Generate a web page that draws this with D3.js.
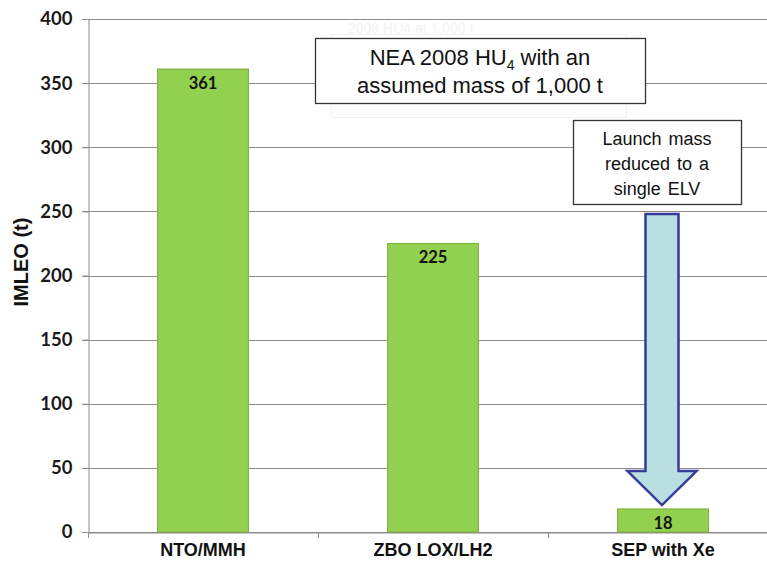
<!DOCTYPE html>
<html><head><meta charset="utf-8">
<script src="https://cdn.jsdelivr.net/npm/d3@7"></script>
<style>body{margin:0;background:#fff}svg{display:block}</style>
</head><body>
<svg id="c" width="767" height="561"></svg>
<script>
const categories = ["NTO/MMH", "ZBO LOX/LH2", "SEP with Xe"];
const values = [361, 225, 18];
const yTicks = [0, 50, 100, 150, 200, 250, 300, 350, 400];
const note1 = ["NEA 2008 HU", "4", " with an"];
const note1b = "assumed mass of 1,000 t";
const note2 = ["Launch mass", "reduced to a", "single ELV"];
const ghostNote = "2008 HU4 at 1,000 t";
const arrowFrom = 248, arrowTo = 21; // arrow spans these IMLEO values

(function () {
const svg = d3.select("#c");
const m = {l: 88, t: 19, r: 778, b: 532};
const x = d3.scaleBand().domain(categories).range([m.l, m.r]).paddingInner(0.605).paddingOuter(0.3025);
const y = d3.scaleLinear().domain([0, 400]).range([m.b, m.t]);

// gridlines
svg.append("g").selectAll("line").data(yTicks).join("line")
  .attr("x1", m.l - 6).attr("x2", m.r)
  .attr("y1", d => Math.round(y(d)) + 0.5).attr("y2", d => Math.round(y(d)) + 0.5)
  .attr("stroke", "#8c8c8c").attr("stroke-width", 1);

// y axis
const ya = svg.append("g").attr("transform", `translate(${m.l + 0.5},0)`)
  .call(d3.axisLeft(y).tickValues(yTicks).tickSize(6).tickPadding(10));
ya.select(".domain").attr("stroke", "#8c8c8c");
ya.selectAll(".tick line").attr("stroke", "#8c8c8c");
ya.selectAll("text").attr("font-family", "Lato, sans-serif").attr("font-size", 18.5)
  .attr("font-weight", "bold").attr("fill", "#1a1a1a");

// x axis
const xa = svg.append("g").attr("transform", `translate(0,${Math.round(m.b) + 0.5})`)
  .call(d3.axisBottom(x).tickSize(0).tickPadding(11));
xa.select(".domain").attr("stroke", "#8c8c8c");
xa.selectAll("text").attr("font-family", "'Liberation Sans Narrow', 'Arial Narrow', sans-serif")
  .attr("font-size", 18).attr("font-weight", "bold").attr("fill", "#111");
const bounds = [m.l].concat(categories.map(c => x(c) + x.bandwidth() / 2 + x.step() / 2));
svg.append("g").selectAll("line").data(bounds).join("line")
  .attr("x1", d => Math.round(d) + 0.5).attr("x2", d => Math.round(d) + 0.5)
  .attr("y1", m.b).attr("y2", m.b + 6).attr("stroke", "#8c8c8c");

// bars
svg.append("g").selectAll("rect").data(values).join("rect")
  .attr("x", (d, i) => x(categories[i])).attr("width", x.bandwidth())
  .attr("y", d => y(d)).attr("height", d => y(0) - y(d))
  .attr("fill", "#92d050").attr("stroke", "#7fb040").attr("stroke-width", 1);

svg.append("g").selectAll("text").data(values).join("text")
  .attr("x", (d, i) => x(categories[i]) + x.bandwidth() / 2)
  .attr("y", d => y(d) + 20)
  .attr("text-anchor", "middle").attr("font-family", "Lato, sans-serif")
  .attr("font-size", 16.5).attr("font-weight", "bold").attr("fill", "#111").text(d => d);

// ghost box
svg.append("rect").attr("x", 331.5).attr("y", 34.5).attr("width", 295).attr("height", 83)
  .attr("fill", "none").attr("stroke", "#f2f2f2");
svg.append("text").attr("x", 348).attr("y", 33).attr("font-family", "Liberation Sans, Arial, sans-serif")
  .attr("font-size", 14).attr("fill", "#f3f3f3").text(ghostNote);

// note 1
svg.append("rect").attr("x", 315.5).attr("y", 38.5).attr("width", 330).attr("height", 65)
  .attr("fill", "#fff").attr("stroke", "#333").attr("stroke-width", 1.3);
const t1 = svg.append("text").attr("x", 480).attr("y", 65).attr("text-anchor", "middle")
  .attr("font-family", "Liberation Sans, Arial, sans-serif").attr("font-size", 22).attr("fill", "#111");
t1.append("tspan").text(note1[0]);
t1.append("tspan").attr("font-size", 14).attr("dy", 5).text(note1[1]);
t1.append("tspan").attr("dy", -5).text(note1[2]);
svg.append("text").attr("x", 480).attr("y", 93).attr("text-anchor", "middle")
  .attr("font-family", "Liberation Sans, Arial, sans-serif").attr("font-size", 22).attr("fill", "#111").text(note1b);

// note 2
svg.append("rect").attr("x", 573.5).attr("y", 120.5).attr("width", 168).attr("height", 84)
  .attr("fill", "#fff").attr("stroke", "#333").attr("stroke-width", 1.3);
svg.append("g").selectAll("text").data(note2).join("text")
  .attr("x", 657).attr("y", (d, i) => 145 + i * 25).attr("text-anchor", "middle")
  .attr("font-family", "Liberation Sans, Arial, sans-serif").attr("font-size", 18).attr("fill", "#111")
  .attr("word-spacing", 2).text(d => d);

// arrow
const cx = x(categories[2]) + x.bandwidth() / 2 - 1;
const aTop = y(arrowFrom), tip = y(arrowTo), shoulder = tip - 34;
const sw = 16.5, hw = 34.5;
const pts = [[cx - sw, aTop], [cx + sw, aTop], [cx + sw, shoulder], [cx + hw, shoulder], [cx, tip],
  [cx - hw, shoulder], [cx - sw, shoulder]];
svg.append("path").attr("d", d3.line()(pts) + "Z")
  .attr("fill", "#b9dfe3").attr("stroke", "#343b99").attr("stroke-width", 2.5).attr("stroke-linejoin", "miter");

// y title
svg.append("text").attr("transform", "translate(28,262) rotate(-90)").attr("text-anchor", "middle")
  .attr("font-family", "Liberation Sans, Arial, sans-serif").attr("font-size", 20).attr("font-weight", "bold")
  .attr("fill", "#111").text("IMLEO (t)");
})();
</script>
</body></html>
